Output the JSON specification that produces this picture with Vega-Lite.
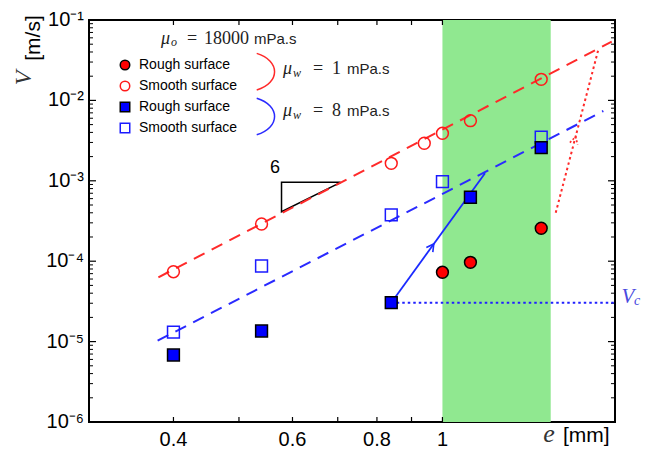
{
  "$schema": "https://vega.github.io/schema/vega-lite/v6.json",
  "width": 526,
  "height": 402,
  "autosize": "none",
  "padding": {"left": 89, "top": 20, "right": 41, "bottom": 28},
  "background": "white",
  "config": {
    "font": "Liberation Sans",
    "view": {"stroke": "black", "strokeWidth": 2}
  },
  "datasets": {
    "ymajor": [{"V": 1e-6, "t": "10⁻⁶"}, {"V": 1e-5, "t": "10⁻⁵"}, {"V": 1e-4, "t": "10⁻⁴"}, {"V": 1e-3, "t": "10⁻³"}, {"V": 1e-2, "t": "10⁻²"}, {"V": 1e-1, "t": "10⁻¹"}],
    "yminor": [{"V": 2e-6}, {"V": 3e-6}, {"V": 4e-6}, {"V": 5e-6}, {"V": 6e-6}, {"V": 7e-6}, {"V": 8e-6}, {"V": 9e-6},
               {"V": 2e-5}, {"V": 3e-5}, {"V": 4e-5}, {"V": 5e-5}, {"V": 6e-5}, {"V": 7e-5}, {"V": 8e-5}, {"V": 9e-5},
               {"V": 2e-4}, {"V": 3e-4}, {"V": 4e-4}, {"V": 5e-4}, {"V": 6e-4}, {"V": 7e-4}, {"V": 8e-4}, {"V": 9e-4},
               {"V": 2e-3}, {"V": 3e-3}, {"V": 4e-3}, {"V": 5e-3}, {"V": 6e-3}, {"V": 7e-3}, {"V": 8e-3}, {"V": 9e-3},
               {"V": 2e-2}, {"V": 3e-2}, {"V": 4e-2}, {"V": 5e-2}, {"V": 6e-2}, {"V": 7e-2}, {"V": 8e-2}, {"V": 9e-2}],
    "xticks": [{"e": 0.4}, {"e": 0.5}, {"e": 0.6}, {"e": 0.7}, {"e": 0.8}, {"e": 0.9}, {"e": 1.0}],
    "xlabels": [{"e": 0.4, "t": "0.4"}, {"e": 0.6, "t": "0.6"}, {"e": 0.8, "t": "0.8"}, {"e": 1.0, "t": "1"}]
  },
  "layer": [
    {
      "data": {"values": [{"e": 1.0, "e2": 1.446}]},
      "mark": {"type": "rect", "color": "#90e890"},
      "encoding": {
        "x": {"field": "e", "type": "quantitative", "scale": {"type": "log", "domain": [0.3, 1.8], "nice": false}, "axis": null},
        "x2": {"field": "e2"}
      }
    },
    {
      "data": {"name": "ymajor"},
      "mark": {"type": "rule", "color": "black", "strokeWidth": 1.2},
      "encoding": {
        "y": {"field": "V", "type": "quantitative", "scale": {"type": "log", "domain": [1e-6, 0.1], "nice": false}, "axis": null},
        "x": {"datum": 0.3, "type": "quantitative", "scale": {"type": "log", "domain": [0.3, 1.8], "nice": false}, "axis": null},
        "x2": {"datum": 0.30723}
      }
    },
    {
      "data": {"name": "ymajor"},
      "mark": {"type": "rule", "color": "black", "strokeWidth": 1.2},
      "encoding": {
        "y": {"field": "V", "type": "quantitative", "scale": {"type": "log", "domain": [1e-6, 0.1], "nice": false}, "axis": null},
        "x": {"datum": 1.7576, "type": "quantitative", "scale": {"type": "log", "domain": [0.3, 1.8], "nice": false}, "axis": null},
        "x2": {"datum": 1.8}
      }
    },
    {
      "data": {"name": "yminor"},
      "mark": {"type": "rule", "color": "black", "strokeWidth": 1},
      "encoding": {
        "y": {"field": "V", "type": "quantitative", "scale": {"type": "log", "domain": [1e-6, 0.1], "nice": false}, "axis": null},
        "x": {"datum": 0.3, "type": "quantitative", "scale": {"type": "log", "domain": [0.3, 1.8], "nice": false}, "axis": null},
        "x2": {"datum": 0.30412}
      }
    },
    {
      "data": {"name": "yminor"},
      "mark": {"type": "rule", "color": "black", "strokeWidth": 1},
      "encoding": {
        "y": {"field": "V", "type": "quantitative", "scale": {"type": "log", "domain": [1e-6, 0.1], "nice": false}, "axis": null},
        "x": {"datum": 1.7756, "type": "quantitative", "scale": {"type": "log", "domain": [0.3, 1.8], "nice": false}, "axis": null},
        "x2": {"datum": 1.8}
      }
    },
    {
      "data": {"name": "xticks"},
      "mark": {"type": "rule", "color": "black", "strokeWidth": 1.2},
      "encoding": {
        "x": {"field": "e", "type": "quantitative", "scale": {"type": "log", "domain": [0.3, 1.8], "nice": false}, "axis": null},
        "y": {"datum": 1e-6, "type": "quantitative", "scale": {"type": "log", "domain": [1e-6, 0.1], "nice": false}, "axis": null},
        "y2": {"datum": 1.154e-6}
      }
    },
    {
      "data": {"name": "xticks"},
      "mark": {"type": "rule", "color": "black", "strokeWidth": 1.2},
      "encoding": {
        "x": {"field": "e", "type": "quantitative", "scale": {"type": "log", "domain": [0.3, 1.8], "nice": false}, "axis": null},
        "y": {"datum": 0.08665, "type": "quantitative", "scale": {"type": "log", "domain": [1e-6, 0.1], "nice": false}, "axis": null},
        "y2": {"datum": 0.1}
      }
    },
    {
      "data": {"name": "ymajor"},
      "mark": {"type": "text", "font": "Liberation Sans", "fontSize": 20, "align": "right", "baseline": "middle", "dx": -5, "color": "black"},
      "encoding": {
        "y": {"field": "V", "type": "quantitative", "scale": {"type": "log", "domain": [1e-6, 0.1], "nice": false}, "axis": null},
        "x": {"datum": 0.3, "type": "quantitative", "scale": {"type": "log", "domain": [0.3, 1.8], "nice": false}, "axis": null},
        "text": {"field": "t"}
      }
    },
    {
      "data": {"name": "xlabels"},
      "mark": {"type": "text", "font": "Liberation Sans", "fontSize": 20, "align": "center", "baseline": "top", "dy": 8, "color": "black"},
      "encoding": {
        "x": {"field": "e", "type": "quantitative", "scale": {"type": "log", "domain": [0.3, 1.8], "nice": false}, "axis": null},
        "y": {"datum": 1e-6, "type": "quantitative", "scale": {"type": "log", "domain": [1e-6, 0.1], "nice": false}, "axis": null},
        "text": {"field": "t"}
      }
    },
    {
      "data": {"values": [{"e": 0.707, "V": 9.58e-4, "i": 0}, {"e": 0.578, "V": 9.58e-4, "i": 1}, {"e": 0.578, "V": 4.13e-4, "i": 2}, {"e": 0.707, "V": 9.58e-4, "i": 3}]},
      "mark": {"type": "line", "color": "black", "strokeWidth": 1.5},
      "encoding": {
        "x": {"field": "e", "type": "quantitative", "scale": {"type": "log", "domain": [0.3, 1.8], "nice": false}, "axis": null},
        "y": {"field": "V", "type": "quantitative", "scale": {"type": "log", "domain": [1e-6, 0.1], "nice": false}, "axis": null},
        "order": {"field": "i", "type": "quantitative"}
      }
    },
    {
      "data": {"values": [{"e": 0.380, "V": 6.31e-5}, {"e": 1.780, "V": 0.0537}]},
      "mark": {"type": "line", "color": "#ff2a2a", "strokeWidth": 2, "strokeDash": [12, 8]},
      "encoding": {
        "x": {"field": "e", "type": "quantitative", "scale": {"type": "log", "domain": [0.3, 1.8], "nice": false}, "axis": null},
        "y": {"field": "V", "type": "quantitative", "scale": {"type": "log", "domain": [1e-6, 0.1], "nice": false}, "axis": null}
      }
    },
    {
      "data": {"values": [{"e": 0.379, "V": 1.026e-5}, {"e": 1.730, "V": 7.38e-3}]},
      "mark": {"type": "line", "color": "#2a2aff", "strokeWidth": 2, "strokeDash": [12, 8]},
      "encoding": {
        "x": {"field": "e", "type": "quantitative", "scale": {"type": "log", "domain": [0.3, 1.8], "nice": false}, "axis": null},
        "y": {"field": "V", "type": "quantitative", "scale": {"type": "log", "domain": [1e-6, 0.1], "nice": false}, "axis": null}
      }
    },
    {
      "data": {"values": [{"e": 1.471, "V": 4.01e-4}, {"e": 1.701, "V": 0.0432}]},
      "mark": {"type": "line", "color": "#ff2a2a", "strokeWidth": 2, "strokeDash": [2.5, 3]},
      "encoding": {
        "x": {"field": "e", "type": "quantitative", "scale": {"type": "log", "domain": [0.3, 1.8], "nice": false}, "axis": null},
        "y": {"field": "V", "type": "quantitative", "scale": {"type": "log", "domain": [1e-6, 0.1], "nice": false}, "axis": null}
      }
    },
    {
      "data": {"values": [{"e": 0.84, "V": 3.05e-5}, {"e": 1.8, "V": 3.05e-5}]},
      "mark": {"type": "line", "color": "#2020ff", "strokeWidth": 2, "strokeDash": [2.5, 3]},
      "encoding": {
        "x": {"field": "e", "type": "quantitative", "scale": {"type": "log", "domain": [0.3, 1.8], "nice": false}, "axis": null},
        "y": {"field": "V", "type": "quantitative", "scale": {"type": "log", "domain": [1e-6, 0.1], "nice": false}, "axis": null}
      }
    },
    {
      "data": {"values": [{"e": 0.84, "V": 3.05e-5}, {"e": 1.156, "V": 1.24e-3}]},
      "mark": {"type": "line", "color": "#1a2aff", "strokeWidth": 1.8},
      "encoding": {
        "x": {"field": "e", "type": "quantitative", "scale": {"type": "log", "domain": [0.3, 1.8], "nice": false}, "axis": null},
        "y": {"field": "V", "type": "quantitative", "scale": {"type": "log", "domain": [1e-6, 0.1], "nice": false}, "axis": null}
      }
    },
    {
      "data": {"values": [{"e": 0.971, "V": 1.64e-4}]},
      "mark": {"type": "point", "shape": "M-0.5,0.9L0,0L0.5,0.9", "size": 256, "angle": 36, "filled": false, "color": "#1a2aff", "strokeWidth": 1.6, "opacity": 1},
      "encoding": {
        "x": {"field": "e", "type": "quantitative", "scale": {"type": "log", "domain": [0.3, 1.8], "nice": false}, "axis": null},
        "y": {"field": "V", "type": "quantitative", "scale": {"type": "log", "domain": [1e-6, 0.1], "nice": false}, "axis": null}
      }
    },
    {
      "data": {"values": [{"e": 1.574, "V": 3.54e-3}]},
      "mark": {"type": "point", "shape": "M-0.5,0.9L0,0L0.5,0.9", "size": 256, "angle": 15, "filled": false, "color": "#ff2a2a", "strokeWidth": 1.6, "strokeDash": [2, 2], "opacity": 1},
      "encoding": {
        "x": {"field": "e", "type": "quantitative", "scale": {"type": "log", "domain": [0.3, 1.8], "nice": false}, "axis": null},
        "y": {"field": "V", "type": "quantitative", "scale": {"type": "log", "domain": [1e-6, 0.1], "nice": false}, "axis": null}
      }
    },
    {
      "data": {"values": [{"e": 0.548, "V": 0.02275}]},
      "mark": {"type": "point", "shape": "M-0.5,-1C0.8,-0.6 0.8,0.6 -0.5,1", "size": 1340, "filled": false, "color": "#ff2a2a", "strokeWidth": 1.5, "opacity": 1},
      "encoding": {
        "x": {"field": "e", "type": "quantitative", "scale": {"type": "log", "domain": [0.3, 1.8], "nice": false}, "axis": null},
        "y": {"field": "V", "type": "quantitative", "scale": {"type": "log", "domain": [1e-6, 0.1], "nice": false}, "axis": null}
      }
    },
    {
      "data": {"values": [{"e": 0.548, "V": 6.31e-3}]},
      "mark": {"type": "point", "shape": "M-0.5,-1C0.8,-0.6 0.8,0.6 -0.5,1", "size": 1340, "filled": false, "color": "#2a2aff", "strokeWidth": 1.5, "opacity": 1},
      "encoding": {
        "x": {"field": "e", "type": "quantitative", "scale": {"type": "log", "domain": [0.3, 1.8], "nice": false}, "axis": null},
        "y": {"field": "V", "type": "quantitative", "scale": {"type": "log", "domain": [1e-6, 0.1], "nice": false}, "axis": null}
      }
    },
    {
      "data": {"values": [
        {"e": 0.4, "V": 7.40e-5, "series": "Smooth surface|1"},
        {"e": 0.54, "V": 2.90e-4, "series": "Smooth surface|1"},
        {"e": 0.84, "V": 1.65e-3, "series": "Smooth surface|1"},
        {"e": 0.94, "V": 2.93e-3, "series": "Smooth surface|1"},
        {"e": 1.0, "V": 3.90e-3, "series": "Smooth surface|1"},
        {"e": 1.1, "V": 5.59e-3, "series": "Smooth surface|1"},
        {"e": 1.4, "V": 1.83e-2, "series": "Smooth surface|1"},
        {"e": 1.0, "V": 7.28e-5, "series": "Rough surface|1"},
        {"e": 1.1, "V": 9.69e-5, "series": "Rough surface|1"},
        {"e": 1.4, "V": 2.57e-4, "series": "Rough surface|1"},
        {"e": 0.4, "V": 1.31e-5, "series": "Smooth surface|8"},
        {"e": 0.54, "V": 8.71e-5, "series": "Smooth surface|8"},
        {"e": 0.84, "V": 3.76e-4, "series": "Smooth surface|8"},
        {"e": 1.0, "V": 9.75e-4, "series": "Smooth surface|8"},
        {"e": 1.4, "V": 3.48e-3, "series": "Smooth surface|8"},
        {"e": 0.4, "V": 6.81e-6, "series": "Rough surface|8"},
        {"e": 0.54, "V": 1.355e-5, "series": "Rough surface|8"},
        {"e": 0.84, "V": 3.05e-5, "series": "Rough surface|8"},
        {"e": 1.1, "V": 6.24e-4, "series": "Rough surface|8"},
        {"e": 1.4, "V": 2.58e-3, "series": "Rough surface|8"}
      ]},
      "mark": {"type": "point", "size": 140, "strokeWidth": 1.5, "opacity": 1},
      "encoding": {
        "x": {"field": "e", "type": "quantitative", "scale": {"type": "log", "domain": [0.3, 1.8], "nice": false}, "axis": null},
        "y": {"field": "V", "type": "quantitative", "scale": {"type": "log", "domain": [1e-6, 0.1], "nice": false}, "axis": null},
        "shape": {"field": "series", "type": "nominal",
          "scale": {"domain": ["Rough surface|1", "Smooth surface|1", "Rough surface|8", "Smooth surface|8"], "range": ["circle", "circle", "square", "square"]},
          "legend": {"title": null, "orient": "none", "legendX": 29, "legendY": 38, "padding": 0, "labelExpr": "split(datum.label, '|')[0]", "labelFont": "Liberation Sans", "labelFontSize": 14, "labelColor": "black", "symbolSize": 90, "symbolStrokeWidth": 1.5, "symbolOpacity": 1, "rowPadding": 5, "labelOffset": 7}},
        "fill": {"field": "series", "type": "nominal",
          "scale": {"domain": ["Rough surface|1", "Smooth surface|1", "Rough surface|8", "Smooth surface|8"], "range": ["#ff0000", "transparent", "#0000ff", "transparent"]}},
        "stroke": {"field": "series", "type": "nominal",
          "scale": {"domain": ["Rough surface|1", "Smooth surface|1", "Rough surface|8", "Smooth surface|8"], "range": ["#000000", "#ff1a1a", "#000000", "#1a1aff"]}}
      }
    },
    {
      "data": {"values": [{"e": 0.3833, "V": 0.05029, "t": "μ"}, {"e": 0.5809, "V": 0.02130, "t": "μ"}, {"e": 0.5809, "V": 0.006397, "t": "μ"}]},
      "mark": {"type": "text", "font": "Liberation Serif", "fontStyle": "italic", "fontSize": 18, "align": "left", "baseline": "alphabetic", "color": "#222222"},
      "encoding": {
        "x": {"field": "e", "type": "quantitative", "scale": {"type": "log", "domain": [0.3, 1.8], "nice": false}, "axis": null},
        "y": {"field": "V", "type": "quantitative", "scale": {"type": "log", "domain": [1e-6, 0.1], "nice": false}, "axis": null},
        "text": {"field": "t"}
      }
    },
    {
      "data": {"values": [{"e": 0.3966, "V": 0.04749, "t": "o"}, {"e": 0.6011, "V": 0.01954, "t": "w"}, {"e": 0.6011, "V": 0.00587, "t": "w"}]},
      "mark": {"type": "text", "font": "Liberation Serif", "fontStyle": "italic", "fontSize": 12, "align": "left", "baseline": "alphabetic", "color": "#222222"},
      "encoding": {
        "x": {"field": "e", "type": "quantitative", "scale": {"type": "log", "domain": [0.3, 1.8], "nice": false}, "axis": null},
        "y": {"field": "V", "type": "quantitative", "scale": {"type": "log", "domain": [1e-6, 0.1], "nice": false}, "axis": null},
        "text": {"field": "t"}
      }
    },
    {
      "data": {"values": [
        {"e": 0.4189, "V": 0.05029, "t": "="}, {"e": 0.4438, "V": 0.05029, "t": "18000"},
        {"e": 0.6435, "V": 0.02130, "t": "="}, {"e": 0.6864, "V": 0.02130, "t": "1"},
        {"e": 0.6435, "V": 0.006397, "t": "="}, {"e": 0.6864, "V": 0.006397, "t": "8"}
      ]},
      "mark": {"type": "text", "font": "Liberation Serif", "fontSize": 18, "align": "left", "baseline": "alphabetic", "color": "#222222"},
      "encoding": {
        "x": {"field": "e", "type": "quantitative", "scale": {"type": "log", "domain": [0.3, 1.8], "nice": false}, "axis": null},
        "y": {"field": "V", "type": "quantitative", "scale": {"type": "log", "domain": [1e-6, 0.1], "nice": false}, "axis": null},
        "text": {"field": "t"}
      }
    },
    {
      "data": {"values": [{"e": 0.5263, "V": 0.05029, "t": "mPa.s"}, {"e": 0.7225, "V": 0.02130, "t": "mPa.s"}, {"e": 0.7225, "V": 0.006397, "t": "mPa.s"}]},
      "mark": {"type": "text", "font": "Liberation Sans", "fontSize": 15, "align": "left", "baseline": "alphabetic", "color": "#222222"},
      "encoding": {
        "x": {"field": "e", "type": "quantitative", "scale": {"type": "log", "domain": [0.3, 1.8], "nice": false}, "axis": null},
        "y": {"field": "V", "type": "quantitative", "scale": {"type": "log", "domain": [1e-6, 0.1], "nice": false}, "axis": null},
        "text": {"field": "t"}
      }
    },
    {
      "data": {"values": [{"e": 0.5654, "V": 1.43e-3, "t": "6"}]},
      "mark": {"type": "text", "font": "Liberation Sans", "fontSize": 18, "align": "center", "baseline": "middle", "color": "black"},
      "encoding": {
        "x": {"field": "e", "type": "quantitative", "scale": {"type": "log", "domain": [0.3, 1.8], "nice": false}, "axis": null},
        "y": {"field": "V", "type": "quantitative", "scale": {"type": "log", "domain": [1e-6, 0.1], "nice": false}, "axis": null},
        "text": {"field": "t"}
      }
    },
    {
      "data": {"values": [{"e": 1.438, "V": 5.64e-7, "t": "e"}]},
      "mark": {"type": "text", "font": "Liberation Serif", "fontStyle": "italic", "fontSize": 26, "align": "center", "baseline": "alphabetic", "color": "#333333"},
      "encoding": {
        "x": {"field": "e", "type": "quantitative", "scale": {"type": "log", "domain": [0.3, 1.8], "nice": false}, "axis": null},
        "y": {"field": "V", "type": "quantitative", "scale": {"type": "log", "domain": [1e-6, 0.1], "nice": false}, "axis": null},
        "text": {"field": "t"}
      }
    },
    {
      "data": {"values": [{"e": 1.508, "V": 5.64e-7, "t": "[mm]"}]},
      "mark": {"type": "text", "font": "Liberation Sans", "fontSize": 21, "align": "left", "baseline": "alphabetic", "color": "black"},
      "encoding": {
        "x": {"field": "e", "type": "quantitative", "scale": {"type": "log", "domain": [0.3, 1.8], "nice": false}, "axis": null},
        "y": {"field": "V", "type": "quantitative", "scale": {"type": "log", "domain": [1e-6, 0.1], "nice": false}, "axis": null},
        "text": {"field": "t"}
      }
    },
    {
      "data": {"values": [{"e": 0.2463, "V": 0.0190, "t": "V"}]},
      "mark": {"type": "text", "font": "Liberation Serif", "fontStyle": "italic", "fontSize": 24, "angle": 270, "align": "center", "baseline": "alphabetic", "color": "#333333"},
      "encoding": {
        "x": {"field": "e", "type": "quantitative", "scale": {"type": "log", "domain": [0.3, 1.8], "nice": false}, "axis": null},
        "y": {"field": "V", "type": "quantitative", "scale": {"type": "log", "domain": [1e-6, 0.1], "nice": false}, "axis": null},
        "text": {"field": "t"}
      }
    },
    {
      "data": {"values": [{"e": 0.2539, "V": 0.0597, "t": "[m/s]"}]},
      "mark": {"type": "text", "font": "Liberation Sans", "fontSize": 21, "angle": 270, "align": "center", "baseline": "alphabetic", "color": "black"},
      "encoding": {
        "x": {"field": "e", "type": "quantitative", "scale": {"type": "log", "domain": [0.3, 1.8], "nice": false}, "axis": null},
        "y": {"field": "V", "type": "quantitative", "scale": {"type": "log", "domain": [1e-6, 0.1], "nice": false}, "axis": null},
        "text": {"field": "t"}
      }
    },
    {
      "data": {"values": [{"e": 1.841, "V": 2.978e-5, "t": "V"}]},
      "mark": {"type": "text", "font": "Liberation Serif", "fontStyle": "italic", "fontSize": 21, "align": "left", "baseline": "alphabetic", "color": "#4a4ae0"},
      "encoding": {
        "x": {"field": "e", "type": "quantitative", "scale": {"type": "log", "domain": [0.3, 1.8], "nice": false}, "axis": null},
        "y": {"field": "V", "type": "quantitative", "scale": {"type": "log", "domain": [1e-6, 0.1], "nice": false}, "axis": null},
        "text": {"field": "t"}
      }
    },
    {
      "data": {"values": [{"e": 1.921, "V": 2.851e-5, "t": "c"}]},
      "mark": {"type": "text", "font": "Liberation Serif", "fontStyle": "italic", "fontSize": 14, "align": "left", "baseline": "alphabetic", "color": "#4a4ae0"},
      "encoding": {
        "x": {"field": "e", "type": "quantitative", "scale": {"type": "log", "domain": [0.3, 1.8], "nice": false}, "axis": null},
        "y": {"field": "V", "type": "quantitative", "scale": {"type": "log", "domain": [1e-6, 0.1], "nice": false}, "axis": null},
        "text": {"field": "t"}
      }
    }
  ]
}
